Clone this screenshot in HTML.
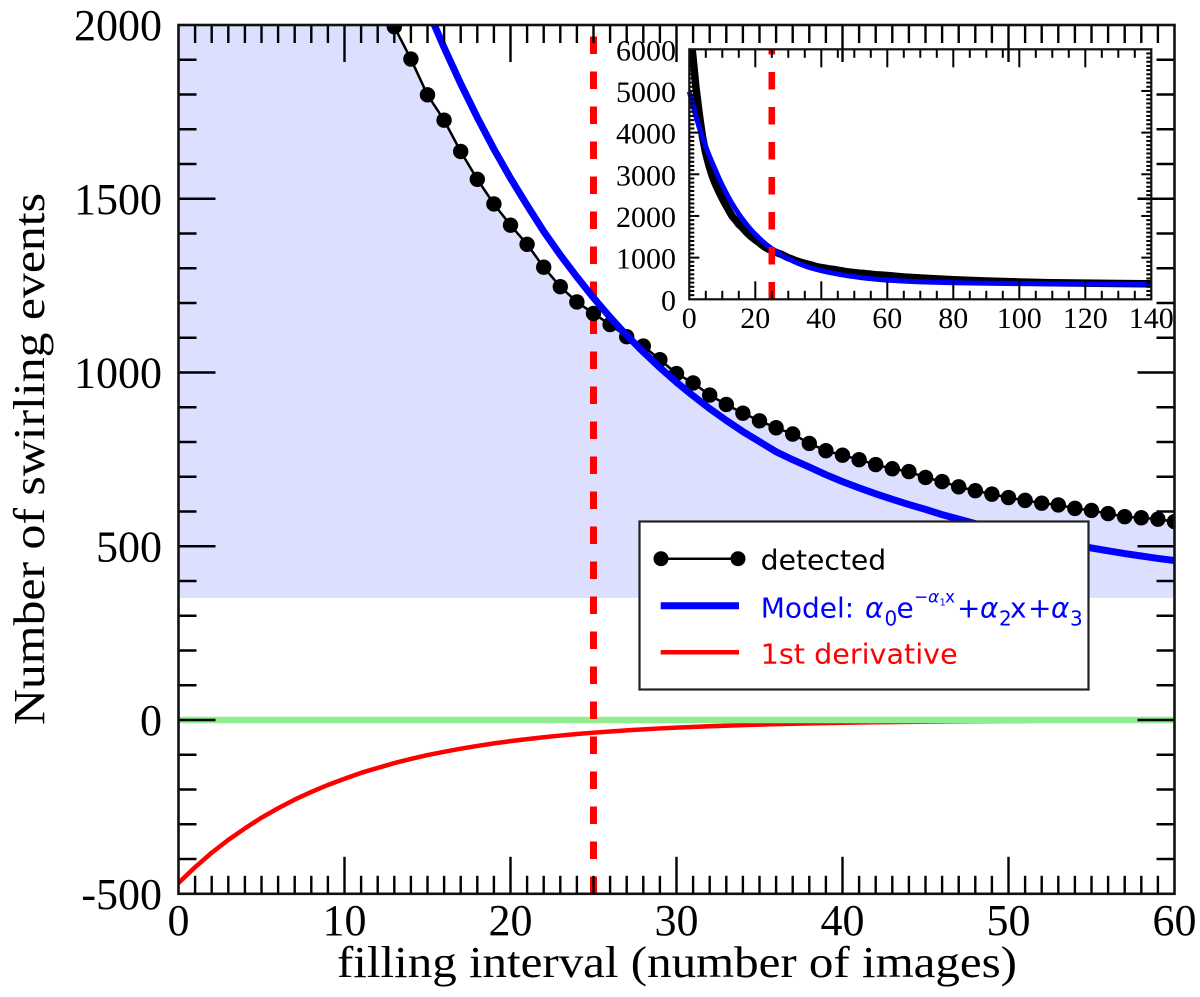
<!DOCTYPE html>
<html lang="en">
<head>
<meta charset="utf-8">
<title>Number of swirling events vs filling interval</title>
<style>
html,body{margin:0;padding:0;background:#fff;}
svg{display:block;}
.serif{font-family:"Liberation Serif",serif;fill:#000;}
.sans{font-family:"DejaVu Sans",sans-serif;}
</style>
</head>
<body>
<svg id="chart" xmlns="http://www.w3.org/2000/svg" width="1200" height="997" viewBox="0 0 1200 997">
  <defs>
    <clipPath id="main-clip"><rect x="178.5" y="25" width="996" height="869"></rect></clipPath>
    <clipPath id="inset-clip"><rect x="689.3" y="49.3" width="462" height="250"></rect></clipPath>
  </defs>
  <g id="main-plot"></g>
  <g id="inset-plot"></g>
  <text class="serif" x="337" y="977" font-size="44" textLength="680" lengthAdjust="spacingAndGlyphs">filling interval (number of images)</text>
  <text class="serif" transform="translate(44,725) rotate(-90)" font-size="44" textLength="532" lengthAdjust="spacingAndGlyphs">Number of swirling events</text>

  <g>
    <rect x="639.5" y="521.5" width="449" height="168" fill="#fff" stroke="#222" stroke-width="2.2"></rect>
    <g>
      <line x1="661" y1="558.7" x2="738" y2="558.7" stroke="#000" stroke-width="2.5"></line>
      <circle cx="661" cy="558.7" r="7.5" fill="#000"></circle>
      <circle cx="738" cy="558.7" r="7.5" fill="#000"></circle>
      <text class="sans" x="760.7" y="569.3" font-size="28" fill="#000" textLength="125.5" lengthAdjust="spacingAndGlyphs">detected</text>
    </g>
    <g>
      <line x1="660.7" y1="605.7" x2="739" y2="605.7" stroke="#0000ff" stroke-width="7"></line>
      <text class="sans" y="617.7" font-size="28" fill="#0000ff"><tspan x="760.7">Model: </tspan><tspan x="865" font-style="italic">α</tspan><tspan x="884.5" dy="8" font-size="20">0</tspan><tspan x="896.5" dy="-8">e</tspan><tspan x="914" dy="-15" font-size="17">−</tspan><tspan x="928" font-size="17" font-style="italic">α</tspan><tspan x="939.5" dy="3" font-size="10">1</tspan><tspan x="945" dy="-3" font-size="17">x</tspan><tspan x="957" dy="15">+</tspan><tspan x="980" font-style="italic">α</tspan><tspan x="999" dy="8" font-size="20">2</tspan><tspan x="1010" dy="-8">x</tspan><tspan x="1028">+</tspan><tspan x="1051" font-style="italic">α</tspan><tspan x="1070" dy="8" font-size="20">3</tspan></text>
    </g>
    <g>
      <line x1="660.7" y1="652.3" x2="739" y2="652.3" stroke="#ff0000" stroke-width="4.5"></line>
      <text class="sans" x="760.7" y="663.3" font-size="28" fill="#ff0000" textLength="197" lengthAdjust="spacingAndGlyphs">1st derivative</text>
    </g>
  </g>
</svg>

<script>
// ---- data ----
const detectedX = [0,1,2,3,4,5,6,7,8,9,10,11,12,13,14,15,16,17,18,19,20,21,22,23,24,25,26,27,28,29,30,31,32,33,34,35,36,37,38,39,40,41,42,43,44,45,46,47,48,49,50,51,52,53,54,55,56,57,58,59,60,65,70,80,90,100,110,120,130,140];
const detectedY = [6400,5900,5100,4450,3900,3500,3200,2950,2750,2580,2420,2270,2130,1995,1902,1799,1726,1636,1556,1485,1424,1369,1303,1247,1203,1170,1138,1103,1076,1037,997,970,935,908,883,861,841,823,796,775,762,749,735,723,715,698,686,671,660,650,640,632,624,619,609,603,594,585,582,578,571,535,510,470,440,415,398,388,380,372];
const modelX = [0,1,2,3,4,5,6,7,8,9,10,11,12,13,14,15,16,17,18,19,20,21,22,23,24,25,26,27,28,29,30,31,32,33,34,35,36,37,38,39,40,41,42,43,44,45,46,47,48,49,50,51,52,53,54,55,56,57,58,59,60,65,70,80,90,100,110,120,130,140];
const modelY = [4985,4680,4390,4120,3880,3660,3460,3270,3089,2906,2737,2580,2431,2294,2166,2046,1935,1831,1734,1643,1559,1481,1406,1338,1275,1215,1159,1107,1059,1014,972,933,896,862,830,801,772,749,728,706,686,668,651,635,620,606,591,578,565,553,542,531,521,512,503,495,487,479,472,465,459,437,417,396,385,377,370,367,364,361];
const derivX = [0,1,2,3,4,5,6,7,8,9,10,11,12,13,14,15,16,17,18,19,20,21,22,23,24,25,26,27,28,29,30,32,34,36,38,40,42,44,46,48,50,52,54,56,58,60];
const derivY = [-469,-423.5,-382,-345,-312,-281,-254,-229,-207,-187,-169,-152,-138,-124,-112,-101,-91.5,-82.6,-74.6,-67.3,-60.8,-54.9,-49.6,-44.8,-40.4,-36.5,-33,-29.8,-26.9,-24.3,-21.9,-17.9,-14.6,-11.9,-9.7,-7.9,-6.5,-5.3,-4.3,-3.5,-2.9,-2.3,-1.9,-1.6,-1.3,-1];
const shadeFloor = [351];
const zeroLine = [0];
const cutoffX = [25];
const cutoffRange = [-500,1970];
const insetCutoffRange = [0,6000];

const mainXLabels = ['0','10','20','30','40','50','60'];
const mainXValues = [0,10,20,30,40,50,60];
const mainYLabels = ['-500','0','500','1000','1500','2000'];
const mainYValues = [-500,0,500,1000,1500,2000];
const insetXLabels = ['0','20','40','60','80','100','120','140'];
const insetXValues = [0,20,40,60,80,100,120,140];
const insetYLabels = ['0','1000','2000','3000','4000','5000','6000'];
const insetYValues = [0,1000,2000,3000,4000,5000,6000];

// ---- axis functions ----
const xMain = v => 178.5 + v * 16.6;
const yMain = v => 720 - v * 0.3475;
const xInset = v => 689.3 + v * 3.3;
const yInset = v => 299.3 - v * 0.04167;

const NS = 'http://www.w3.org/2000/svg';
const mainG = document.getElementById('main-plot');
const insetG = document.getElementById('inset-plot');

function node(tag, parent, attrs) {
  const el = document.createElementNS(NS, tag);
  for (const k in attrs) el.setAttribute(k, attrs[k]);
  parent.appendChild(el);
  return el;
}
function pts(xs, ys, fx, fy) {
  return xs.map((x, i) => fx(x).toFixed(2) + ',' + fy(ys[i]).toFixed(2)).join(' ');
}
function line(parent, x1, y1, x2, y2, w) {
  return node('line', parent, {x1: x1, y1: y1, x2: x2, y2: y2, stroke: '#000', 'stroke-width': w});
}

// ---- main plot data layers ----
const clipMain = node('g', mainG, {'clip-path': 'url(#main-clip)'});



const shade = node('polygon', clipMain, {
  points: pts(detectedX, detectedY, xMain, yMain) + ' ' + xMain(140) + ',' + yMain(shadeFloor[0]) + ' ' + xMain(0) + ',' + yMain(shadeFloor[0]),
  fill: '#dcdffd'
});



const redCurve = node('polyline', clipMain, {points: pts(derivX, derivY, xMain, yMain), fill: 'none', stroke: '#ff0000', 'stroke-width': 4.5, 'stroke-linejoin': 'round'});



const green = node('line', clipMain, {x1: xMain(0), x2: xMain(60), y1: yMain(zeroLine[0]), y2: yMain(zeroLine[0]), stroke: '#90ee90', 'stroke-width': 6.6});



const cutoff = node('line', clipMain, {x1: xMain(cutoffX[0]), x2: xMain(cutoffX[0]), y1: yMain(cutoffRange[0]) + 0.3, y2: yMain(cutoffRange[1]), stroke: '#ff0000', 'stroke-width': 7, 'stroke-dasharray': '17.5 17.5'});



const blackLine = node('polyline', clipMain, {points: pts(detectedX, detectedY, xMain, yMain), fill: 'none', stroke: '#000', 'stroke-width': 2.5});



detectedX.forEach((x, i) => {
  const dot = node('circle', clipMain, {cx: xMain(x), cy: yMain(detectedY[i]), r: 7.7, fill: '#000'});
  
  
});

const blueCurve = node('polyline', clipMain, {points: pts(modelX, modelY, xMain, yMain), fill: 'none', stroke: '#0000ff', 'stroke-width': 7, 'stroke-linejoin': 'round'});



// ---- main ticks ----
const mainTicks = node('g', mainG, {});


for (let v = 0; v <= 60; v++) {
  const len = v % 10 === 0 ? 37 : 18;
  if (v === 0 || v === 60) continue;
  line(mainTicks, xMain(v), 893.8, xMain(v), 893.8 - len, 2.4);
  line(mainTicks, xMain(v), 25, xMain(v), 25 + len, 2.4);
}
for (let v = -400; v < 2000; v += 100) {
  const len = v % 500 === 0 ? 37 : 18;
  line(mainTicks, 178.5, yMain(v), 178.5 + len, yMain(v), 2.4);
  line(mainTicks, 1174.5, yMain(v), 1174.5 - len, yMain(v), 2.4);
}
const mainFrame = node('rect', mainG, {x: 178.5, y: 25, width: 996, height: 868.8, fill: 'none', stroke: '#111', 'stroke-width': 2.6});



mainXValues.forEach((v, i) => {
  const t = node('text', mainG, {x: xMain(v), y: 935, 'text-anchor': 'middle', 'font-size': 44, 'class': 'serif'});
  
  
  t.textContent = mainXLabels[i];
});
mainYValues.forEach((v, i) => {
  const t = node('text', mainG, {x: 162, y: yMain(v) + 15, 'text-anchor': 'end', 'font-size': 44, 'class': 'serif'});
  
  
  t.textContent = mainYLabels[i];
});

// ---- inset ----
const clipInset = node('g', insetG, {'clip-path': 'url(#inset-clip)'});



const insetBlack = node('polyline', clipInset, {points: pts(detectedX, detectedY, xInset, yInset), fill: 'none', stroke: '#000', 'stroke-width': 7.5, 'stroke-linejoin': 'round'});



const insetBlue = node('polyline', insetG, {points: pts(modelX, modelY, xInset, yInset), fill: 'none', stroke: '#0000ff', 'stroke-width': 5, 'stroke-linejoin': 'round'});



const insetCut = node('line', insetG, {x1: xInset(cutoffX[0]), x2: xInset(cutoffX[0]), y1: yInset(insetCutoffRange[0]) + 0.2, y2: yInset(insetCutoffRange[1]), stroke: '#ff0000', 'stroke-width': 6.6, 'stroke-dasharray': '17.5 17.5'});



const insetTicks = node('g', insetG, {});


for (let v = 5; v < 140; v += 5) {
  const len = v % 20 === 0 ? 18 : 8.5;
  line(insetTicks, xInset(v), 299.3, xInset(v), 299.3 - len, 2);
  line(insetTicks, xInset(v), 49.3, xInset(v), 49.3 + len, 2);
}
for (let v = 100; v < 6000; v += 100) {
  const len = v % 1000 === 0 ? 10 : 5;
  line(insetTicks, 689.3, yInset(v), 689.3 + len, yInset(v), 2);
  line(insetTicks, 1151.3, yInset(v), 1151.3 - len, yInset(v), 2);
}
const insetFrame = node('rect', insetG, {x: 689.3, y: 49.3, width: 462, height: 250, fill: 'none', stroke: '#111', 'stroke-width': 2.2});



insetXValues.forEach((v, i) => {
  const t = node('text', insetG, {x: xInset(v), y: 328, 'text-anchor': 'middle', 'font-size': 30, 'class': 'serif'});
  
  
  t.textContent = insetXLabels[i];
});
insetYValues.forEach((v, i) => {
  const t = node('text', insetG, {x: 676, y: yInset(v) + 11, 'text-anchor': 'end', 'font-size': 30, 'class': 'serif'});
  
  
  t.textContent = insetYLabels[i];
});
</script>
</body>
</html>
